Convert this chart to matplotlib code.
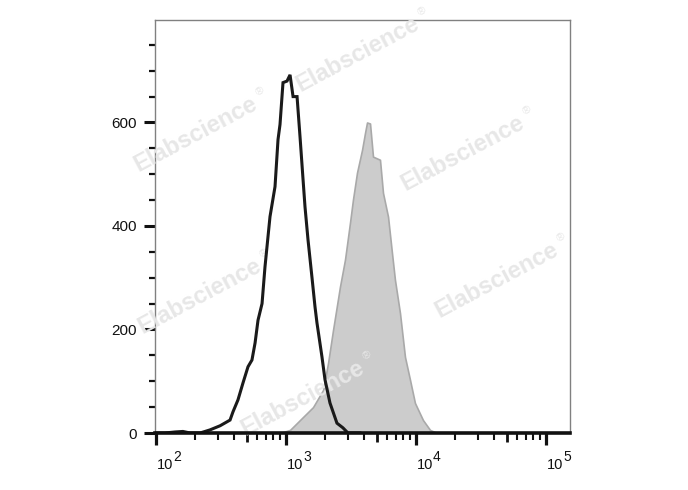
import matplotlib
matplotlib.use('Agg')
import matplotlib.pyplot as plt
from matplotlib.ticker import FixedLocator, NullLocator, MultipleLocator, NullFormatter
from matplotlib.transforms import blended_transform_factory, ScaledTranslation

plt.rcParams['font.family'] = ['Liberation Sans', 'DejaVu Sans']

# ---- data ----
black_x = [100, 117, 140, 161, 183, 218, 260, 311, 371, 391, 427, 467, 510, 547, 578,
           609, 654, 689, 753, 823, 868, 899, 948, 1018, 1074, 1133, 1216, 1282, 1353,
           1400, 1477, 1585, 1671, 1730, 1891, 1995, 2179, 2466, 2742, 2997, 3700]
black_y = [0, 0, 2, 3, 0, 0, 6, 14, 25, 41, 64, 97, 128, 141, 174,
           218, 250, 321, 418, 476, 567, 596, 677, 680, 692, 650, 650, 572, 489,
           437, 373, 300, 244, 213, 147, 103, 58, 19, 10, 0, 0]

gray_x = [899, 1074, 1353, 1614, 1928, 2105, 2300, 2602, 2843, 3105, 3275, 3517, 3845,
          4055, 4200, 4430, 4670, 5285, 5575, 6095, 6535, 6890, 7530, 8230, 8990, 9820,
          11320, 12820, 14520]
gray_y = [0, 6, 31, 50, 83, 135, 199, 283, 335, 406, 451, 503, 547,
          580, 600, 598, 534, 528, 464, 418, 348, 296, 232, 147, 103, 58,
          25, 6, 0]

y_major = [0, 200, 400, 600]
y_labels = ['0', '200', '400', '600']
x_decades = [2, 3, 4, 5]
watermark = 'Elabscience'
wm_centers_px = [(196, 134), (358, 54), (463, 153), (497, 280), (200, 296), (303, 398)]

# ---- figure ----
W, H = 688, 490
fig = plt.figure(figsize=(W / 100, H / 100), dpi=100)
ax = fig.add_axes([155 / W, 1 - 433 / H, 415 / W, 413 / H])

ax.fill_between(gray_x, gray_y, 0, facecolor='#cccccc', edgecolor='#a9a9a9',
                linewidth=1.2, zorder=2)
ax.plot(black_x, black_y, color='#1a1a1a', linewidth=2.2, zorder=4,
        solid_joinstyle='miter')

ax.set_xscale('log')
ax.set_xlim(10 ** 1.992, 10 ** 5.185)
ax.set_ylim(0, 798)

# spines
for s in ['left', 'top', 'right']:
    ax.spines[s].set_color('#808080')
    ax.spines[s].set_linewidth(1.0)
ax.spines['bottom'].set_color('#111111')
ax.spines['bottom'].set_linewidth(2.6)
ax.spines['bottom'].set_zorder(5)

# y ticks
ax.yaxis.set_major_locator(FixedLocator(y_major))
ax.set_yticklabels(y_labels)
ax.yaxis.set_minor_locator(MultipleLocator(50))
ax.tick_params(axis='y', which='major', length=8, width=2.2, color='#111111',
               labelsize=11, pad=5, labelcolor='#111111')
ax.tick_params(axis='y', which='minor', length=4.5, width=1.6, color='#111111')

# x ticks
ax.xaxis.set_major_locator(FixedLocator([10.0 ** e for e in x_decades]))
ax.xaxis.set_major_formatter(NullFormatter())
minors = [m * 10.0 ** e for e in [2, 3, 4] for m in [2, 3, 4, 6, 7, 8, 9]]
ax.xaxis.set_minor_locator(FixedLocator(minors))
ax.xaxis.set_minor_formatter(NullFormatter())
ax.tick_params(axis='x', which='major', length=8.5, width=2.3, color='#111111')
ax.tick_params(axis='x', which='minor', length=4.8, width=1.5, color='#111111')

sec = ax.secondary_xaxis('bottom', functions=(lambda v: v, lambda v: v))
sec.xaxis.set_major_locator(FixedLocator([5 * 10.0 ** e for e in [2, 3, 4]]))
sec.xaxis.set_major_formatter(NullFormatter())
sec.xaxis.set_minor_locator(NullLocator())
sec.tick_params(axis='x', which='major', length=6.3, width=2.0, color='#111111')
sec.spines['bottom'].set_visible(False)

# decade labels 10^n
trans = blended_transform_factory(ax.transData, ax.transAxes)
for e in x_decades:
    t1 = trans + ScaledTranslation(1 / 100, -36 / 100, fig.dpi_scale_trans)
    ax.text(10.0 ** e, 0, '10', transform=t1, ha='left', va='baseline',
            fontsize=10.5, color='#111111', clip_on=False)
    t2 = trans + ScaledTranslation(17 / 100, -28 / 100, fig.dpi_scale_trans)
    ax.text(10.0 ** e, 0, str(e), transform=t2, ha='left', va='baseline',
            fontsize=10, color='#111111', clip_on=False)

# watermarks
for (cx, cy) in wm_centers_px:
    ax.text(cx / W, 1 - cy / H, watermark, transform=fig.transFigure, rotation=28,
            rotation_mode='anchor', ha='center', va='center', fontsize=17,
            fontweight='bold', color='#e7e7e7', zorder=3, clip_on=False)
    ax.text((cx + 64) / W, 1 - (cy - 42) / H, '\u00ae', transform=fig.transFigure,
            rotation=28, rotation_mode='anchor', ha='center', va='center',
            fontsize=8, color='#e7e7e7', zorder=3, clip_on=False)

fig.savefig('out.png', dpi=100)
